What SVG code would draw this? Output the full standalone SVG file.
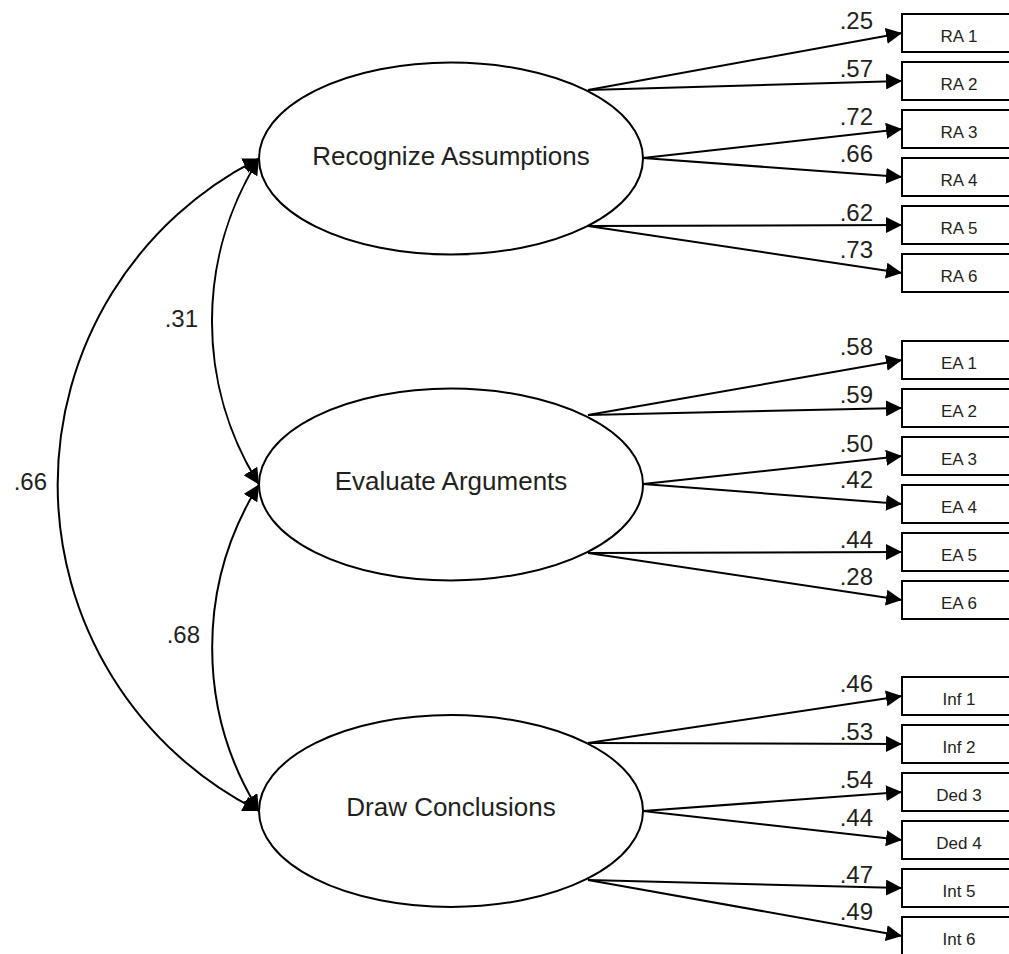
<svg xmlns="http://www.w3.org/2000/svg" width="1009" height="954" viewBox="0 0 1009 954">
<style>
.ell{fill:#fff;stroke:#000;stroke-width:2}
.box{fill:#fff;stroke:#000;stroke-width:2}
.ln{fill:none;stroke:#000;stroke-width:2;marker-end:url(#ah)}
.cv{fill:none;stroke:#000;stroke-width:2;marker-end:url(#ah);marker-start:url(#ahs)}
.lt{font-family:"Liberation Sans",Arial,sans-serif;fill:#231f20}
.big{font-size:26px;text-anchor:middle}
.lab{font-size:24px;text-anchor:end}
.bt{font-size:17px;text-anchor:middle}
</style>
<defs>
<marker id="ah" markerUnits="userSpaceOnUse" markerWidth="16" markerHeight="16" viewBox="0 0 15 15" refX="15" refY="7.5" orient="auto"><path d="M0,0 L15,7.5 L0,15 z" fill="#000"/></marker>
<marker id="ahs" markerUnits="userSpaceOnUse" markerWidth="16" markerHeight="16" viewBox="0 0 15 15" refX="15" refY="7.5" orient="auto-start-reverse"><path d="M0,0 L15,7.5 L0,15 z" fill="#000"/></marker>
</defs>
<rect width="1009" height="954" fill="#fff"/>

<g id="connectors">
<path class="cv" d="M259,158.5 A306,306 0 0 0 259,484.5"/>
<path class="cv" d="M259,484.5 A308,308 0 0 0 259,811"/>
<path class="cv" d="M259,158.5 A365,365 0 0 0 259,811"/>
<line class="ln" x1="588" y1="90" x2="902" y2="33"/>
<line class="ln" x1="588" y1="90" x2="902" y2="81"/>
<line class="ln" x1="643" y1="158" x2="902" y2="129"/>
<line class="ln" x1="643" y1="158" x2="902" y2="177"/>
<line class="ln" x1="588" y1="226" x2="902" y2="225"/>
<line class="ln" x1="588" y1="226" x2="902" y2="273"/>
<line class="ln" x1="588" y1="415" x2="902" y2="360"/>
<line class="ln" x1="588" y1="415" x2="902" y2="408"/>
<line class="ln" x1="643" y1="484" x2="902" y2="456"/>
<line class="ln" x1="643" y1="484" x2="902" y2="504"/>
<line class="ln" x1="588" y1="553" x2="902" y2="552"/>
<line class="ln" x1="588" y1="553" x2="902" y2="600"/>
<line class="ln" x1="588" y1="743" x2="902" y2="696"/>
<line class="ln" x1="588" y1="743" x2="902" y2="744"/>
<line class="ln" x1="643" y1="811" x2="902" y2="792"/>
<line class="ln" x1="643" y1="811" x2="902" y2="840"/>
<line class="ln" x1="588" y1="880" x2="902" y2="888"/>
<line class="ln" x1="588" y1="880" x2="902" y2="936"/>
<g class="lt lab">
<text x="198" y="327">.31</text>
<text x="200" y="643">.68</text>
<text x="47" y="490">.66</text>
<text x="873" y="29">.25</text>
<text x="873" y="77">.57</text>
<text x="873" y="125">.72</text>
<text x="873" y="162">.66</text>
<text x="873" y="221">.62</text>
<text x="873" y="258">.73</text>
<text x="873" y="355">.58</text>
<text x="873" y="403">.59</text>
<text x="873" y="452">.50</text>
<text x="873" y="488">.42</text>
<text x="873" y="548">.44</text>
<text x="873" y="585">.28</text>
<text x="873" y="692">.46</text>
<text x="873" y="740">.53</text>
<text x="873" y="788">.54</text>
<text x="873" y="826">.44</text>
<text x="873" y="883">.47</text>
<text x="873" y="920">.49</text>
</g>
</g>

<g id="latent-ra"><ellipse class="ell" cx="451" cy="158.5" rx="192" ry="96"/><text class="lt big" x="451" y="164.5">Recognize Assumptions</text></g>
<g id="latent-ea"><ellipse class="ell" cx="451" cy="484.5" rx="192" ry="96"/><text class="lt big" x="451" y="490">Evaluate Arguments</text></g>
<g id="latent-dc"><ellipse class="ell" cx="451" cy="811" rx="192" ry="96"/><text class="lt big" x="451" y="816">Draw Conclusions</text></g>

<g id="ra1"><rect class="box" x="902" y="14" width="114" height="38"/><text class="lt bt" x="959" y="42">RA 1</text></g>
<g id="ra2"><rect class="box" x="902" y="62" width="114" height="38"/><text class="lt bt" x="959" y="90">RA 2</text></g>
<g id="ra3"><rect class="box" x="902" y="110" width="114" height="38"/><text class="lt bt" x="959" y="138">RA 3</text></g>
<g id="ra4"><rect class="box" x="902" y="158" width="114" height="38"/><text class="lt bt" x="959" y="186">RA 4</text></g>
<g id="ra5"><rect class="box" x="902" y="206" width="114" height="38"/><text class="lt bt" x="959" y="234">RA 5</text></g>
<g id="ra6"><rect class="box" x="902" y="254" width="114" height="38"/><text class="lt bt" x="959" y="282">RA 6</text></g>

<g id="ea1"><rect class="box" x="902" y="341" width="114" height="38"/><text class="lt bt" x="959" y="369">EA 1</text></g>
<g id="ea2"><rect class="box" x="902" y="389" width="114" height="38"/><text class="lt bt" x="959" y="417">EA 2</text></g>
<g id="ea3"><rect class="box" x="902" y="437" width="114" height="38"/><text class="lt bt" x="959" y="465">EA 3</text></g>
<g id="ea4"><rect class="box" x="902" y="485" width="114" height="38"/><text class="lt bt" x="959" y="513">EA 4</text></g>
<g id="ea5"><rect class="box" x="902" y="533" width="114" height="38"/><text class="lt bt" x="959" y="561">EA 5</text></g>
<g id="ea6"><rect class="box" x="902" y="581" width="114" height="38"/><text class="lt bt" x="959" y="609">EA 6</text></g>

<g id="inf1"><rect class="box" x="902" y="677" width="114" height="38"/><text class="lt bt" x="959" y="705">Inf 1</text></g>
<g id="inf2"><rect class="box" x="902" y="725" width="114" height="38"/><text class="lt bt" x="959" y="753">Inf 2</text></g>
<g id="ded3"><rect class="box" x="902" y="773" width="114" height="38"/><text class="lt bt" x="959" y="801">Ded 3</text></g>
<g id="ded4"><rect class="box" x="902" y="821" width="114" height="38"/><text class="lt bt" x="959" y="849">Ded 4</text></g>
<g id="int5"><rect class="box" x="902" y="869" width="114" height="38"/><text class="lt bt" x="959" y="897">Int 5</text></g>
<g id="int6"><rect class="box" x="902" y="917" width="114" height="38"/><text class="lt bt" x="959" y="945">Int 6</text></g>
</svg>
